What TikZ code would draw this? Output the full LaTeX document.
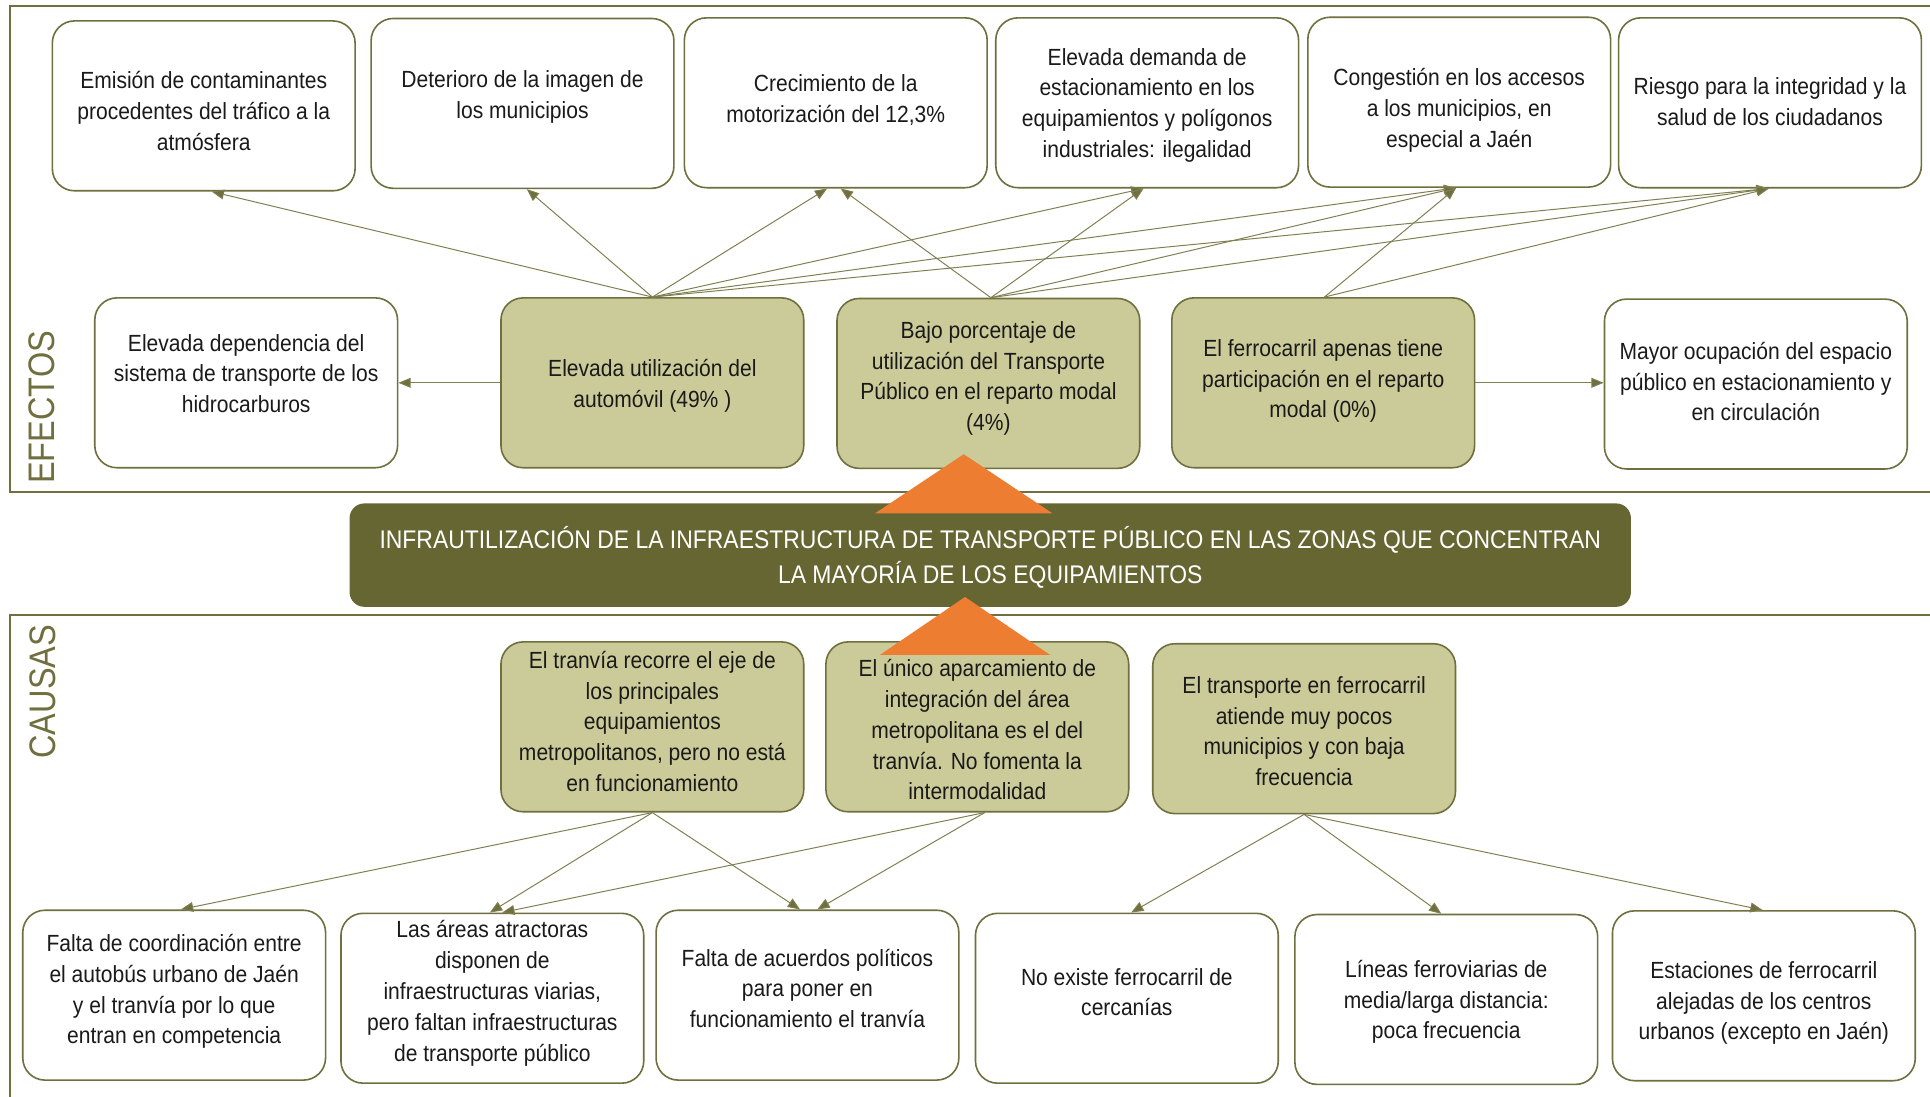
\documentclass[tikz,border=0pt]{standalone}
\usepackage{fontspec}
\setmainfont[FakeStretch=0.9]{Liberation Sans}
\newfontfamily\lblfont[FakeStretch=0.88]{Liberation Sans}
\usetikzlibrary{arrows.meta}
\definecolor{olv}{HTML}{6F6F3F}
\definecolor{arrc}{HTML}{7F7F52}
\definecolor{lolv}{HTML}{CBCB99}
\definecolor{dolv}{HTML}{666633}
\definecolor{orng}{HTML}{ED7D31}
\definecolor{txtc}{HTML}{1A1A1A}
\newcommand\olbox[5]{%
  \node[#1] (#2) at (#3) {};
  \node[txt] (#2-t) at (#4) {#5};}
\begin{document}
\begin{tikzpicture}[x=1pt,y=-1pt,
  wbox/.style={draw=olv, line width=1.3pt, rounded corners=18pt, fill=white,
    minimum width=246pt, minimum height=138pt, inner sep=0pt},
  gbox/.style={wbox, fill=lolv},
  txt/.style={align=center, inner sep=0pt, font=\fontsize{19}{25}\selectfont, text=txtc},
  arr/.style={draw=arrc, line width=0.8pt, -{Triangle[length=10pt,width=8pt,fill=olv]}},
  frm/.style={draw=olv, line width=1.6pt},
  sec/.style={rotate=90, font=\lblfont\fontsize{30}{30}\selectfont, text=olv, inner sep=0pt}]
\useasboundingbox (0,0) rectangle (1568,891);
\clip (0,0) rectangle (1568,891);
\fill[white] (0,0) rectangle (1568,891);

% section frames
\draw[frm] (8,5) rectangle (1600,400);
\draw[frm] (8,500) rectangle (1600,920);
\node[sec] (lefe) at (34,331) {EFECTOS};
\node[sec] (lcau) at (35,562) {CAUSAS};

% top row effects
\olbox{wbox}{t1}{165.5,86}{165.5,90}{Emisión de contaminantes\\procedentes del tráfico a la\\atmósfera}
\olbox{wbox}{t2}{424.5,84}{424.5,78.5}{Deterioro de la imagen de\\los municipios}
\olbox{wbox}{t3}{679,83.5}{679,81.5}{Crecimiento de la\\motorización del 12,3\%}
\olbox{wbox}{t4}{932,83.5}{932,85.5}{Elevada demanda de\\estacionamiento en los\\equipamientos y polígonos\\industriales: ilegalidad}
\olbox{wbox}{t5}{1185.5,83}{1185.5,89.5}{Congestión en los accesos\\a los municipios, en\\especial a Jaén}
\olbox{wbox}{t6}{1438,83.5}{1438,82.5}{Riesgo para la integridad y la\\salud de los ciudadanos}

% second row effects
\olbox{wbox}{e1}{200,311}{200,303.5}{Elevada dependencia del\\sistema de transporte de los\\hidrocarburos}
\olbox{gbox}{e2}{530,311}{530,313.5}{Elevada utilización del\\automóvil (49\% )}
\olbox{gbox}{e3}{803,311.5}{803,307.5}{Bajo porcentaje de\\utilización del Transporte\\Público en el reparto modal\\(4\%)}
\olbox{gbox}{e4}{1075,311}{1075,309.5}{El ferrocarril apenas tiene\\participación en el reparto\\modal (0\%)}
\olbox{wbox}{e5}{1426.5,312}{1426.5,310}{Mayor ocupación del espacio\\público en estacionamiento y\\en circulación}

% causes
\olbox{gbox}{c1}{530,590.5}{530,586}{El tranvía recorre el eje de\\los principales\\equipamientos\\metropolitanos, pero no está\\en funcionamiento}
\olbox{gbox}{c2}{794,590.5}{794,593}{El único aparcamiento de\\integración del área\\metropolitana es el del\\tranvía. No fomenta la\\intermodalidad}
\olbox{gbox}{c3}{1059.5,592}{1059.5,594}{El transporte en ferrocarril\\atiende muy pocos\\municipios y con baja\\frecuencia}

\olbox{wbox}{b1}{141.5,808.5}{141.5,805.5}{Falta de coordinación entre\\el autobús urbano de Jaén\\y el tranvía por lo que\\entran en competencia}
\olbox{wbox}{b2}{400,811}{400,807}{Las áreas atractoras\\disponen de\\infraestructuras viarias,\\pero faltan infraestructuras\\de transporte público}
\olbox{wbox}{b3}{656,808.5}{656,803}{Falta de acuerdos políticos\\para poner en\\funcionamiento el tranvía}
\olbox{wbox}{b4}{915.5,811}{915.5,806}{No existe ferrocarril de\\cercanías}
\olbox{wbox}{b5}{1175,812}{1175,814}{Líneas ferroviarias de\\media/larga distancia:\\poca frecuencia}
\olbox{wbox}{b6}{1433,809}{1433,815}{Estaciones de ferrocarril\\alejadas de los centros\\urbanos (excepto en Jaén)}

% effect arrows
\draw[arr] (e2.north) -- ([xshift=6.5pt]t1.south);
\draw[arr] (e2.north) -- ([xshift=3.5pt]t2.south);
\draw[arr] (e2.north) -- ([xshift=-7pt]t3.south);
\draw[arr] (e2.north) -- ([xshift=-3pt]t4.south);
\draw[arr] (e2.north) -- ([xshift=-2.5pt]t5.south);
\draw[arr] (e2.north) -- ([xshift=-1pt]t6.south);
\draw[arr] ([xshift=2pt]e3.north) -- ([xshift=4pt]t3.south);
\draw[arr] ([xshift=2pt]e3.north) -- ([xshift=-3pt]t4.south);
\draw[arr] ([xshift=2pt]e3.north) -- ([xshift=-2.5pt]t5.south);
\draw[arr] ([xshift=2pt]e3.north) -- ([xshift=-1pt]t6.south);
\draw[arr] ([xshift=1pt]e4.north) -- ([xshift=-2.5pt]t5.south);
\draw[arr] ([xshift=1pt]e4.north) -- ([xshift=-1pt]t6.south);
\draw[arr] (e2.west) -- (e1.east);
\draw[arr] (e4.east) -- (e4.east -| e5.west);

% cause arrows
\draw[arr] (c1.south) -- ([xshift=5.5pt]b1.north);
\draw[arr] (c1.south) -- ([xshift=-2pt]b2.north);
\draw[arr] (c1.south) -- ([xshift=-6pt]b3.north);
\draw[arr] ([xshift=6pt]c2.south) -- ([xshift=8pt]b2.north);
\draw[arr] ([xshift=6pt]c2.south) -- ([xshift=8pt]b3.north);
\draw[arr] (c3.south) -- ([xshift=3.5pt]b4.north);
\draw[arr] (c3.south) -- ([xshift=-4pt]b5.north);
\draw[arr] (c3.south) -- ([xshift=-1pt]b6.north);

% central problem
\node[fill=dolv, rounded corners=12pt, minimum width=1041pt, minimum height=84pt, inner sep=0pt] (prob) at (804.5,451) {};
\node[align=center, inner sep=0pt, text=white, font=\fontsize{20.7}{28}\selectfont] (prob-t) at (804.5,453)
  {INFRAUTILIZACIÓN DE LA INFRAESTRUCTURA DE TRANSPORTE PÚBLICO EN LAS ZONAS QUE CONCENTRAN\\LA MAYORÍA DE LOS EQUIPAMIENTOS};

% orange triangles
\fill[orng] (783,369) -- (711,417) -- (855,417) -- cycle;
\fill[orng] (784,485) -- (715,532) -- (853,532) -- cycle;
\end{tikzpicture}
\end{document}
